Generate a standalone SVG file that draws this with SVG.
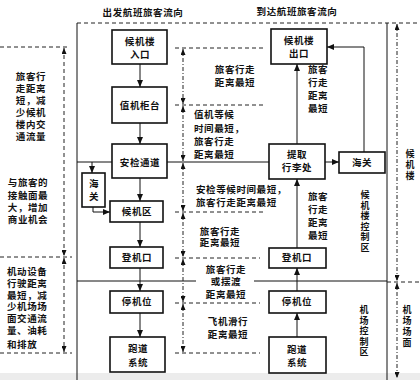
<svg xmlns="http://www.w3.org/2000/svg" width="420" height="380" viewBox="0 0 420 380">
<style>
text{font-family:"Noto Sans CJK SC","Noto Sans CJK JP",sans-serif;font-size:9.5px;font-weight:700;fill:#111;letter-spacing:0.6px}
.c{text-anchor:middle}
.v{font-size:9px;letter-spacing:0}
.box{fill:#fff;stroke:#111;stroke-width:1.6}
.ln{fill:none;stroke:#111;stroke-width:1}
.dash{fill:none;stroke:#222;stroke-width:1;stroke-dasharray:4 3}
.dd{fill:none;stroke:#222;stroke-width:1;stroke-dasharray:4 2 1 2}
.arr{marker-end:url(#ah)}
.both{marker-start:url(#sh);marker-end:url(#sh)}
</style>
<defs>
<marker id="ah" markerUnits="userSpaceOnUse" markerWidth="7" markerHeight="6" refX="7" refY="3" orient="auto"><path d="M0,0 L7,3 L0,6 z" fill="#111"/></marker>
<marker id="sh" markerUnits="userSpaceOnUse" markerWidth="6" markerHeight="5" refX="6" refY="2.5" orient="auto-start-reverse"><path d="M0,0 L6,2.5 L0,5 z" fill="#111"/></marker>
</defs>
<rect x="0" y="0" width="420" height="380" fill="#fff"/>
<rect x="0" y="373" width="420" height="7" fill="#ececec"/>

<text class="c" x="143" y="16">出发航班旅客流向</text>
<text class="c" x="297" y="15">到达航班旅客流向</text>

<g id="frame">
<path class="dash" d="M77,23 H420"/>
<path class="ln" d="M77,23 V380"/>
<path class="ln" d="M387,23 V380"/>
<path class="ln" d="M77,281 H196 M254,281 H387"/>
<path class="dash" d="M387,282 H420"/>
<path class="dash" d="M0,47 H70 M0,257 H72 M0,353 H72"/>
<path class="dash" d="M175,48 H263 M175,105 H263 M175,212 H263 M175,258 H260 M175,303 H260 M175,353 H260"/>
</g>

<g id="connectors">
<path class="ln arr" d="M140,64 V87"/>
<path class="ln arr" d="M140,123 V144"/>
<path class="ln arr" d="M140,178 V201"/>
<path class="ln arr" d="M140,222 V247"/>
<path class="ln arr" d="M140,268 V291"/>
<path class="ln arr" d="M140,313 V337"/>
<path class="ln" d="M77,162 H112"/>
<path class="ln arr" d="M92,162 V173"/>
<path class="ln arr" d="M93,207 V212 H110"/>
<path class="ln" d="M167,162 H269"/>
<path class="ln arr" d="M297,337 V313"/>
<path class="ln arr" d="M297,291 V268"/>
<path class="ln arr" d="M297,248 V179"/>
<path class="ln arr" d="M297,144 V64"/>
<path class="ln arr" d="M325,162 H339"/>
<path class="ln arr" d="M364,152 V47 H327"/>
<path class="dash both" d="M64,48 V256"/>
<path class="dash both" d="M64,258 V352"/>
<path class="dd both" d="M183,49 V104"/>
<path class="dd both" d="M183,106 V161"/>
<path class="dd both" d="M183,163 V211"/>
<path class="dd both" d="M183,213 V257"/>
<path class="dd both" d="M183,259 V302"/>
<path class="dd both" d="M183,304 V352"/>
<path class="dd both" d="M397,24 V281"/>
<path class="dd both" d="M397,283 V378"/>
</g>

<g id="n-entrance"><rect class="box" x="112" y="30" width="55" height="34"/><text class="c" x="140" y="45">候机楼</text><text class="c" x="140" y="58">入口</text></g>
<g id="n-checkin"><rect class="box" x="112" y="87" width="55" height="36"/><text class="c" x="140" y="109">值机柜台</text></g>
<g id="n-security"><rect class="box" x="112" y="144" width="55" height="34"/><text class="c" x="140" y="166">安检通道</text></g>
<g id="n-customs-dep"><rect class="box" x="82" y="173" width="23" height="34"/><text class="c" x="94" y="187">海</text><text class="c" x="94" y="200">关</text></g>
<g id="n-waiting"><rect class="box" x="110" y="201" width="53" height="21"/><text class="c" x="137" y="215">候机区</text></g>
<g id="n-gate-dep"><rect class="box" x="110" y="247" width="53" height="21"/><text class="c" x="137" y="261">登机口</text></g>
<g id="n-stand-dep"><rect class="box" x="110" y="291" width="53" height="22"/><text class="c" x="137" y="305">停机位</text></g>
<g id="n-runway-dep"><rect class="box" x="110" y="337" width="55" height="35"/><text class="c" x="138" y="352">跑道</text><text class="c" x="138" y="366">系统</text></g>

<g id="n-exit"><rect class="box" x="271" y="29" width="56" height="35"/><text class="c" x="299" y="44">候机楼</text><text class="c" x="299" y="57">出口</text></g>
<g id="n-baggage"><rect class="box" x="269" y="144" width="56" height="35"/><text class="c" x="297" y="158">提取</text><text class="c" x="297" y="171">行李处</text></g>
<g id="n-customs-arr"><rect class="box" x="339" y="152" width="46" height="21"/><text class="c" x="362" y="166">海关</text></g>
<g id="n-gate-arr"><rect class="box" x="269" y="248" width="57" height="20"/><text class="c" x="297" y="261">登机口</text></g>
<g id="n-stand-arr"><rect class="box" x="269" y="291" width="57" height="22"/><text class="c" x="297" y="305">停机位</text></g>
<g id="n-runway-arr"><rect class="box" x="269" y="337" width="57" height="36"/><text class="c" x="297" y="353">跑道</text><text class="c" x="297" y="366">系统</text></g>

<g id="labels">
<text class="c"><tspan x="31" y="80">旅客行</tspan><tspan x="31" y="92">走距离</tspan><tspan x="31" y="104">短，减</tspan><tspan x="31" y="116">少候机</tspan><tspan x="31" y="128">楼内交</tspan><tspan x="31" y="140">通流量</tspan></text>
<text class="c"><tspan x="28" y="186">与旅客的</tspan><tspan x="28" y="199">接触面最</tspan><tspan x="28" y="211">大，增加</tspan><tspan x="28" y="223">商业机会</tspan></text>
<text><tspan x="7" y="275">机动设备</tspan><tspan x="7" y="287">行驶距离</tspan><tspan x="7" y="299">最短，减</tspan><tspan x="7" y="310">少机场场</tspan><tspan x="7" y="322">面交通流</tspan><tspan x="7" y="334">量、油耗</tspan><tspan x="7" y="348">和排放</tspan></text>
<text class="c"><tspan x="235" y="73">旅客行走</tspan><tspan x="235" y="86">距离最短</tspan></text>
<text><tspan x="194" y="118">值机等候</tspan><tspan x="194" y="132">时间最短，</tspan><tspan x="194" y="145">旅客行走</tspan><tspan x="194" y="158">距离最短</tspan></text>
<text><tspan x="196" y="193">安检等候时间最短，</tspan><tspan x="196" y="206">旅客行走距离最短</tspan></text>
<text class="c"><tspan x="220" y="235">旅客行走</tspan><tspan x="220" y="246">距离最短</tspan></text>
<text class="c"><tspan x="226" y="273">旅客行走</tspan><tspan x="226" y="285">或摆渡</tspan><tspan x="226" y="298">距离最短</tspan></text>
<text class="c"><tspan x="228" y="325">飞机滑行</tspan><tspan x="228" y="338">距离最短</tspan></text>
<text class="c"><tspan x="318" y="73">旅客</tspan><tspan x="318" y="86">行走</tspan><tspan x="318" y="99">距离</tspan><tspan x="318" y="112">最短</tspan></text>
<text class="c"><tspan x="318" y="200">旅客</tspan><tspan x="318" y="213">行走</tspan><tspan x="318" y="226">距离</tspan><tspan x="318" y="239">最短</tspan></text>
<text class="c v"><tspan x="365" y="198">候</tspan><tspan x="365" y="208.5">机</tspan><tspan x="365" y="219">楼</tspan><tspan x="365" y="229.5">控</tspan><tspan x="365" y="240">制</tspan><tspan x="365" y="250.5">区</tspan></text>
<text class="c v"><tspan x="364" y="313">机</tspan><tspan x="364" y="323.5">场</tspan><tspan x="364" y="334">控</tspan><tspan x="364" y="344.5">制</tspan><tspan x="364" y="355">区</tspan></text>
<text class="c v"><tspan x="410" y="157">候</tspan><tspan x="410" y="168">机</tspan><tspan x="410" y="179">楼</tspan></text>
<text class="c v"><tspan x="407" y="313">机</tspan><tspan x="407" y="324">场</tspan><tspan x="407" y="335">场</tspan><tspan x="407" y="346">面</tspan></text>
</g>
</svg>
